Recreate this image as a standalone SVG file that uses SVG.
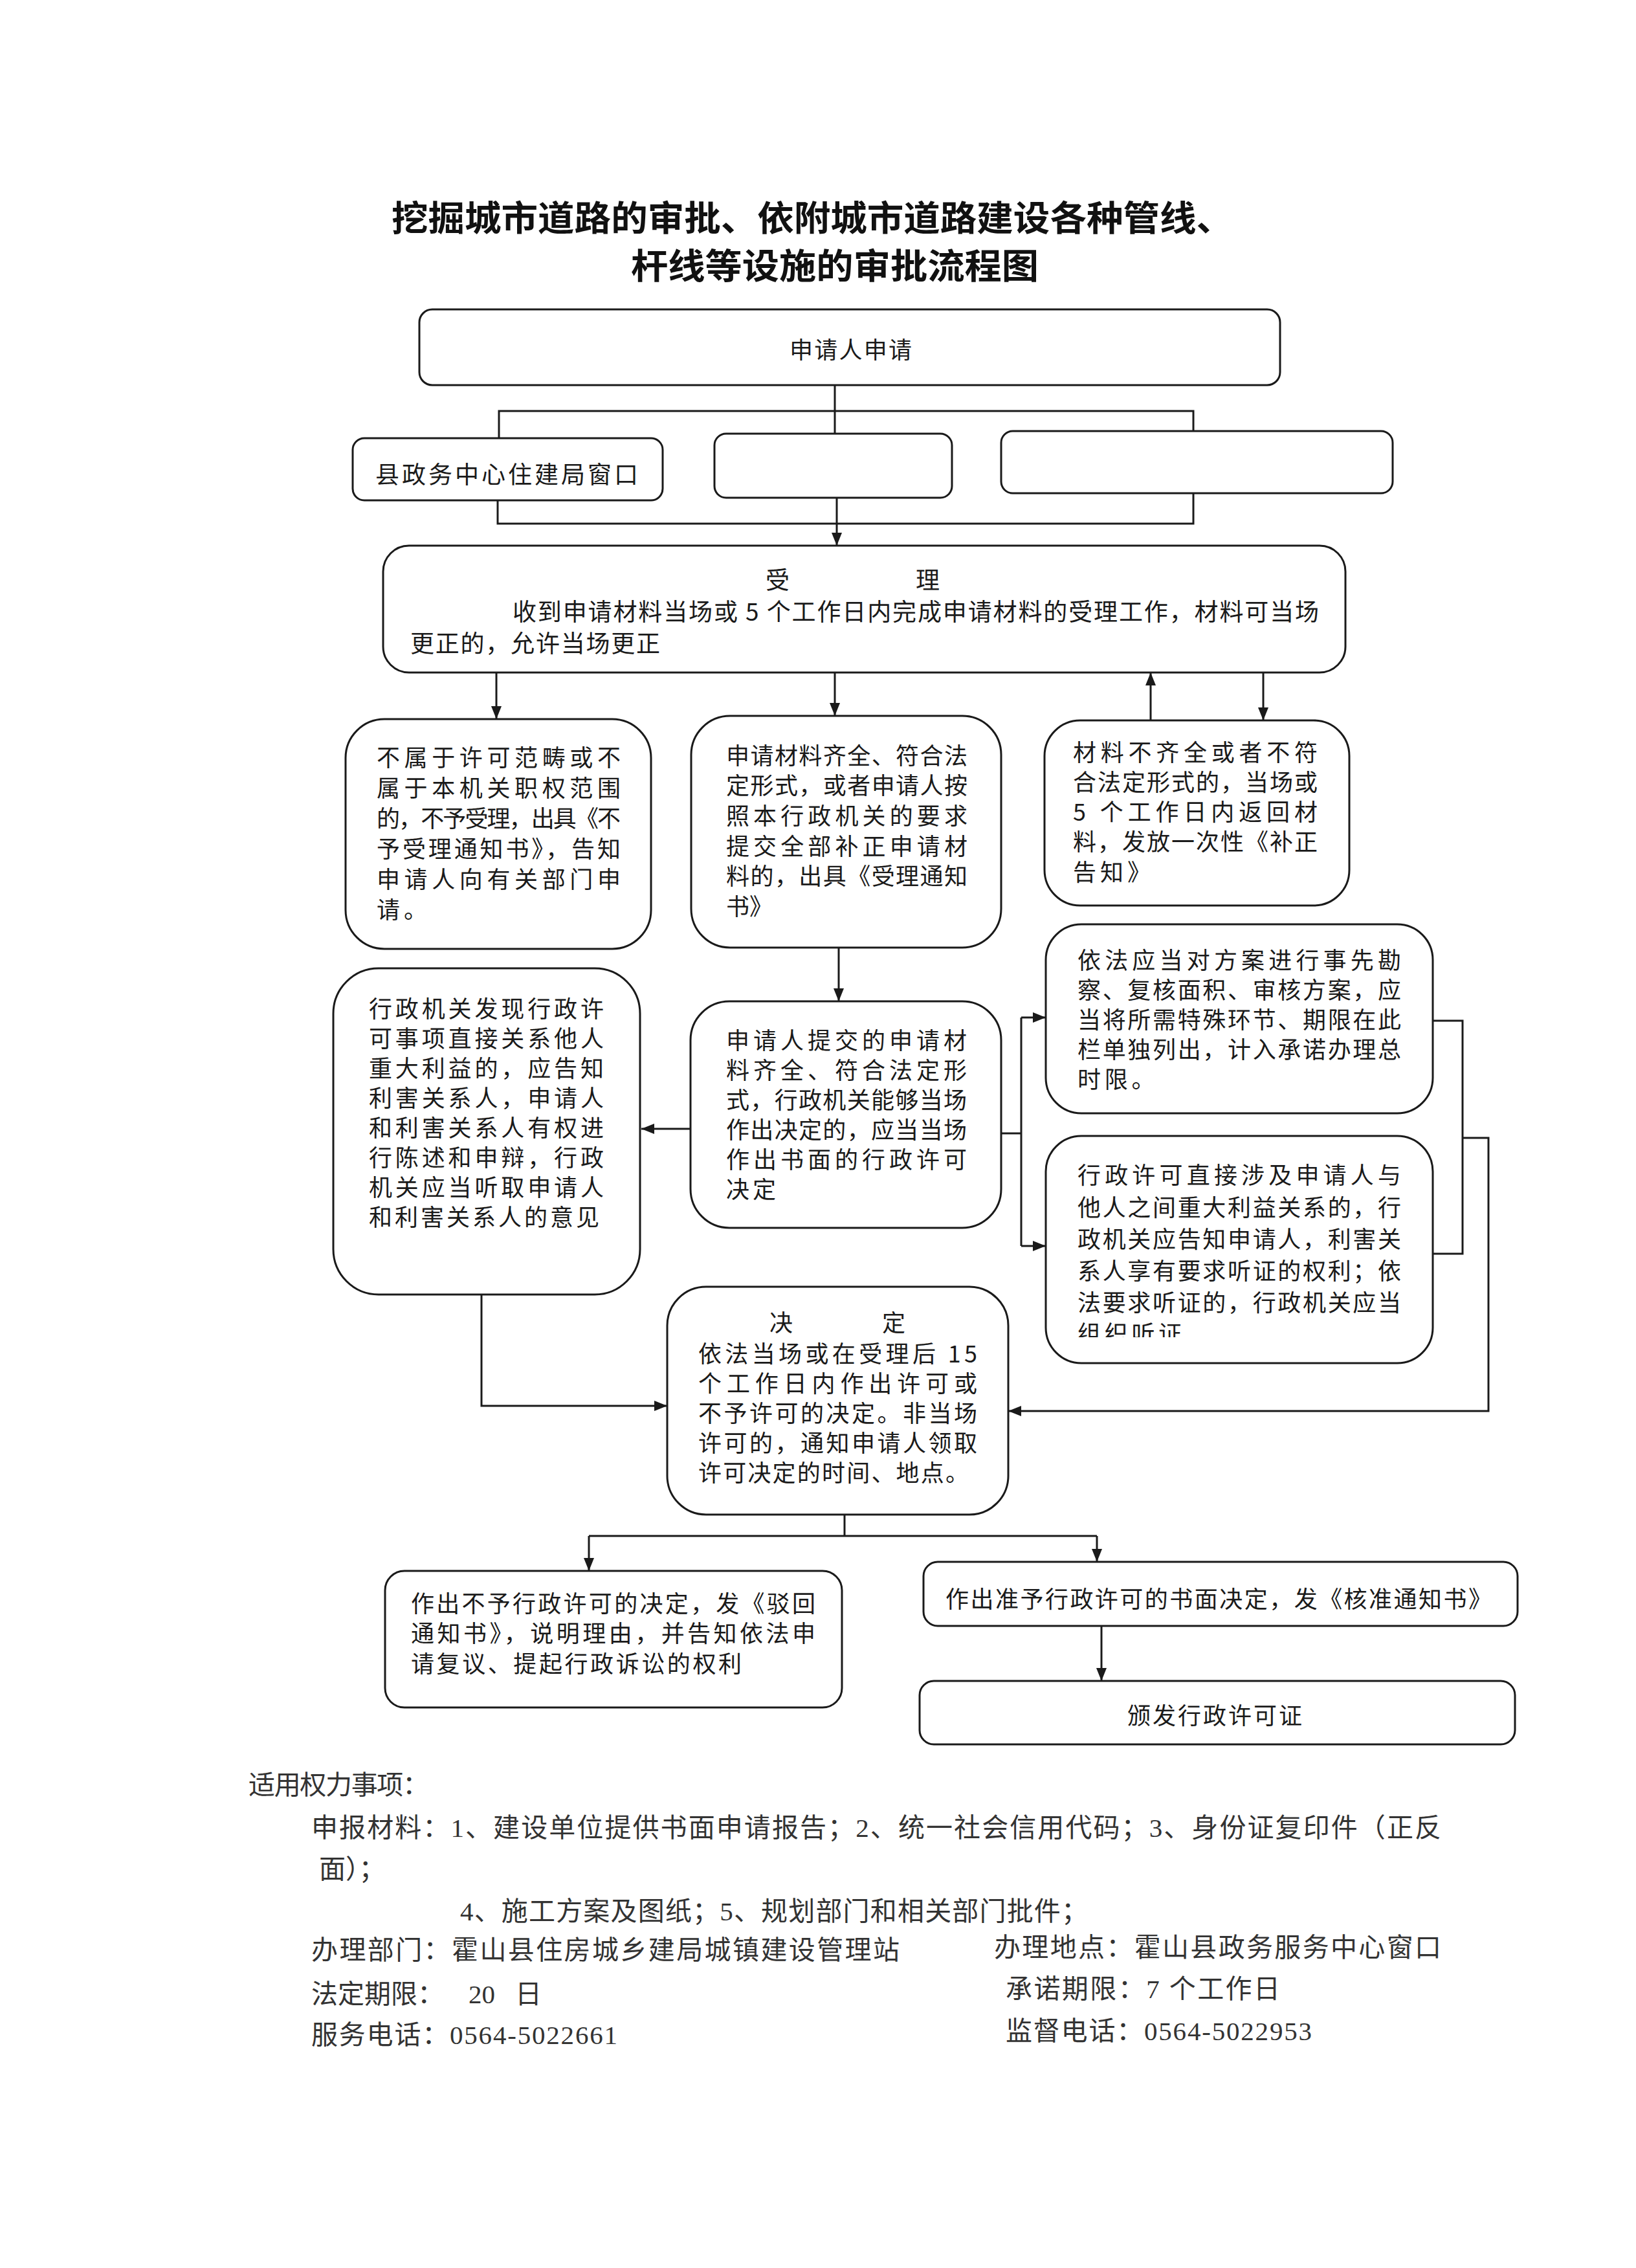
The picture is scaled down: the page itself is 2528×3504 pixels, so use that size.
<svg xmlns="http://www.w3.org/2000/svg" width="2528" height="3504" viewBox="0 0 2528 3504">
<style>
.bg{fill:#ffffff}
.box{fill:#ffffff;stroke:#1a1a1a;stroke-width:3}
.t{font-family:"Noto Sans CJK SC","Noto Sans",sans-serif;font-size:36px;fill:#1a1a1a}
.t37{font-family:"Noto Sans CJK SC","Noto Sans",sans-serif;font-size:37px;fill:#1a1a1a}
.title{font-family:"Noto Sans CJK SC","Noto Sans",sans-serif;font-size:54px;font-weight:700;fill:#111}
.ft{font-family:"Liberation Serif","Noto Sans CJK SC",serif;font-size:41px;fill:#333}
.ln{fill:none;stroke:#1a1a1a;stroke-width:3}
.ar{fill:none;stroke:#1a1a1a;stroke-width:3;marker-end:url(#ah)}
</style>
<defs>
<marker id="ah" markerWidth="20" markerHeight="16" refX="20" refY="8" orient="auto" markerUnits="userSpaceOnUse"><path d="M0,0 L20,8 L0,16 z" fill="#1a1a1a"/></marker>
<clipPath id="clipE4"><rect x="1616" y="1755" width="598" height="311"/></clipPath>
</defs>
<rect class="bg" x="0" y="0" width="2528" height="3504"/>

<g id="title">
<text class="title" x="605" y="357" textLength="1300" lengthAdjust="spacingAndGlyphs">挖掘城市道路的审批、依附城市道路建设各种管线、</text>
<text class="title" x="975" y="431" textLength="630" lengthAdjust="spacingAndGlyphs">杆线等设施的审批流程图</text>
</g>

<g id="connectors">
<path class="ln" d="M1290,595 V670"/>
<path class="ln" d="M771,677 V635 H1844 V666"/>
<path class="ln" d="M769,773 V809 H1844 V762"/>
<path class="ar" d="M1293,769 V843"/>
<path class="ar" d="M767,1039 V1111"/>
<path class="ar" d="M1290,1039 V1106"/>
<path class="ar" d="M1778,1113 V1039"/>
<path class="ar" d="M1952,1039 V1113"/>
<path class="ar" d="M1296,1464 V1547"/>
<path class="ar" d="M1067,1744 H991"/>
<path class="ln" d="M1547,1751 H1578"/>
<path class="ln" d="M1578,1572 V1925"/>
<path class="ar" d="M1578,1572 H1616"/>
<path class="ar" d="M1578,1925 H1616"/>
<path class="ln" d="M2214,1577 H2260 V1937 H2214"/>
<path class="ar" d="M2260,1758 H2300 V2180 H1558"/>
<path class="ar" d="M744,2000 V2172 H1031"/>
<path class="ln" d="M1305,2340 V2373"/>
<path class="ln" d="M910,2373 H1695"/>
<path class="ar" d="M910,2373 V2427"/>
<path class="ar" d="M1695,2373 V2413"/>
<path class="ar" d="M1702,2512 V2597"/>
</g>

<g id="n-apply">
<rect class="box" x="648" y="478" width="1330" height="117" rx="20"/>
<text class="t" x="1220" y="554" textLength="189" lengthAdjust="spacing">申请人申请</text>
</g>

<g id="n-window">
<rect class="box" x="545" y="677" width="479" height="96" rx="18"/>
<text class="t37" x="580" y="747" textLength="406" lengthAdjust="spacing">县政务中心住建局窗口</text>
</g>
<g id="n-blank1">
<rect class="box" x="1104" y="670" width="367" height="99" rx="18"/>
</g>
<g id="n-blank2">
<rect class="box" x="1547" y="666" width="605" height="96" rx="18"/>
</g>

<g id="n-accept">
<rect class="box" x="592" y="843" width="1487" height="196" rx="40"/>
<text class="t37" x="1183" y="910">受</text>
<text class="t37" x="1415" y="910">理</text>
<text class="t37" x="792" y="959" textLength="1246" lengthAdjust="spacing">收到申请材料当场或 5 个工作日内完成申请材料的受理工作，材料可当场</text>
<text class="t37" x="634" y="1008" textLength="386" lengthAdjust="spacing">更正的，允许当场更正</text>
</g>

<g id="n-reject">
<rect class="box" x="534" y="1111" width="472" height="355" rx="60"/>
<text class="t" x="582" y="1184" textLength="377" lengthAdjust="spacing">不属于许可范畴或不</text>
<text class="t" x="582" y="1231" textLength="377" lengthAdjust="spacing">属于本机关职权范围</text>
<text class="t" x="582" y="1278" textLength="377" lengthAdjust="spacing">的，不予受理，出具《不</text>
<text class="t" x="582" y="1325" textLength="377" lengthAdjust="spacing">予受理通知书》，告知</text>
<text class="t" x="582" y="1372" textLength="377" lengthAdjust="spacing">申请人向有关部门申</text>
<text class="t" x="582" y="1419" style="letter-spacing:6px">请。</text>
</g>

<g id="n-complete">
<rect class="box" x="1068" y="1106" width="479" height="358" rx="60"/>
<text class="t" x="1122" y="1181" textLength="373" lengthAdjust="spacing">申请材料齐全、符合法</text>
<text class="t" x="1122" y="1227" textLength="373" lengthAdjust="spacing">定形式，或者申请人按</text>
<text class="t" x="1122" y="1274" textLength="373" lengthAdjust="spacing">照本行政机关的要求</text>
<text class="t" x="1122" y="1321" textLength="373" lengthAdjust="spacing">提交全部补正申请材</text>
<text class="t" x="1122" y="1367" textLength="373" lengthAdjust="spacing">料的，出具《受理通知</text>
<text class="t" x="1122" y="1414">书》</text>
</g>

<g id="n-incomplete">
<rect class="box" x="1614" y="1113" width="471" height="286" rx="55"/>
<text class="t" x="1658" y="1176" textLength="378" lengthAdjust="spacing">材料不齐全或者不符</text>
<text class="t" x="1658" y="1222" textLength="378" lengthAdjust="spacing">合法定形式的，当场或</text>
<text class="t" x="1658" y="1268" textLength="378" lengthAdjust="spacing">5 个工作日内返回材</text>
<text class="t" x="1658" y="1314" textLength="378" lengthAdjust="spacing">料，发放一次性《补正</text>
<text class="t" x="1658" y="1361" style="letter-spacing:6px">告知》</text>
</g>

<g id="n-hearing-left">
<rect class="box" x="515" y="1496" width="474" height="504" rx="70"/>
<text class="t" x="570" y="1572" textLength="363" lengthAdjust="spacing">行政机关发现行政许</text>
<text class="t" x="570" y="1618" textLength="363" lengthAdjust="spacing">可事项直接关系他人</text>
<text class="t" x="570" y="1664" textLength="363" lengthAdjust="spacing">重大利益的，应告知</text>
<text class="t" x="570" y="1710" textLength="363" lengthAdjust="spacing">利害关系人，申请人</text>
<text class="t" x="570" y="1756" textLength="363" lengthAdjust="spacing">和利害关系人有权进</text>
<text class="t" x="570" y="1802" textLength="363" lengthAdjust="spacing">行陈述和申辩，行政</text>
<text class="t" x="570" y="1848" textLength="363" lengthAdjust="spacing">机关应当听取申请人</text>
<text class="t" x="570" y="1894" textLength="356" lengthAdjust="spacing">和利害关系人的意见</text>
</g>

<g id="n-onsite">
<rect class="box" x="1067" y="1547" width="480" height="350" rx="60"/>
<text class="t" x="1122" y="1621" textLength="372" lengthAdjust="spacing">申请人提交的申请材</text>
<text class="t" x="1122" y="1667" textLength="372" lengthAdjust="spacing">料齐全、符合法定形</text>
<text class="t" x="1122" y="1713" textLength="372" lengthAdjust="spacing">式，行政机关能够当场</text>
<text class="t" x="1122" y="1759" textLength="372" lengthAdjust="spacing">作出决定的，应当当场</text>
<text class="t" x="1122" y="1805" textLength="372" lengthAdjust="spacing">作出书面的行政许可</text>
<text class="t" x="1122" y="1851" style="letter-spacing:5px">决定</text>
</g>

<g id="n-survey">
<rect class="box" x="1616" y="1428" width="598" height="292" rx="55"/>
<text class="t" x="1665" y="1497" textLength="500" lengthAdjust="spacing">依法应当对方案进行事先勘</text>
<text class="t" x="1665" y="1543" textLength="500" lengthAdjust="spacing">察、复核面积、审核方案，应</text>
<text class="t" x="1665" y="1589" textLength="500" lengthAdjust="spacing">当将所需特殊环节、期限在此</text>
<text class="t" x="1665" y="1635" textLength="500" lengthAdjust="spacing">栏单独列出，计入承诺办理总</text>
<text class="t" x="1665" y="1681" style="letter-spacing:5.7px">时限。</text>
</g>

<g id="n-hearing-right">
<rect class="box" x="1616" y="1755" width="598" height="351" rx="55"/>
<text class="t" x="1665" y="1829" textLength="500" lengthAdjust="spacing">行政许可直接涉及申请人与</text>
<text class="t" x="1665" y="1879" textLength="500" lengthAdjust="spacing">他人之间重大利益关系的，行</text>
<text class="t" x="1665" y="1928" textLength="500" lengthAdjust="spacing">政机关应告知申请人，利害关</text>
<text class="t" x="1665" y="1977" textLength="500" lengthAdjust="spacing">系人享有要求听证的权利；依</text>
<text class="t" x="1665" y="2026" textLength="500" lengthAdjust="spacing">法要求听证的，行政机关应当</text>
<text class="t" x="1665" y="2074" clip-path="url(#clipE4)" style="letter-spacing:5.7px">组织听证</text>
</g>

<g id="n-decision">
<rect class="box" x="1031" y="1988" width="527" height="352" rx="60"/>
<text class="t" x="1189" y="2057">决</text>
<text class="t" x="1363" y="2057">定</text>
<text class="t" x="1079" y="2105" textLength="431" lengthAdjust="spacing">依法当场或在受理后 15</text>
<text class="t" x="1079" y="2151" textLength="431" lengthAdjust="spacing">个工作日内作出许可或</text>
<text class="t" x="1079" y="2197" textLength="431" lengthAdjust="spacing">不予许可的决定。非当场</text>
<text class="t" x="1079" y="2243" textLength="431" lengthAdjust="spacing">许可的，通知申请人领取</text>
<text class="t" x="1079" y="2289" textLength="418" lengthAdjust="spacing">许可决定的时间、地点。</text>
</g>

<g id="n-deny">
<rect class="box" x="595" y="2427" width="706" height="211" rx="30"/>
<text class="t" x="635" y="2491" textLength="625" lengthAdjust="spacing">作出不予行政许可的决定，发《驳回</text>
<text class="t" x="635" y="2537" textLength="625" lengthAdjust="spacing">通知书》，说明理由，并告知依法申</text>
<text class="t" x="635" y="2584" textLength="511" lengthAdjust="spacing">请复议、提起行政诉讼的权利</text>
</g>

<g id="n-approve">
<rect class="box" x="1427" y="2413" width="918" height="99" rx="22"/>
<text class="t" x="1461" y="2484" textLength="844" lengthAdjust="spacing">作出准予行政许可的书面决定，发《核准通知书》</text>
</g>

<g id="n-issue">
<rect class="box" x="1421" y="2597" width="920" height="98" rx="22"/>
<text class="t" x="1742" y="2664" textLength="270" lengthAdjust="spacing">颁发行政许可证</text>
</g>

<g id="footer">
<text class="ft" x="384" y="2772" textLength="279" lengthAdjust="spacing">适用权力事项：</text>
<text class="ft" x="481" y="2838" textLength="1746" lengthAdjust="spacing">申报材料：1、建设单位提供书面申请报告；2、统一社会信用代码；3、身份证复印件（正反</text>
<text class="ft" x="493" y="2902">面）；</text>
<text class="ft" x="711" y="2967" textLength="970" lengthAdjust="spacing">4、施工方案及图纸；5、规划部门和相关部门批件；</text>
<text class="ft" x="481" y="3027" textLength="909" lengthAdjust="spacing">办理部门：霍山县住房城乡建局城镇建设管理站</text>
<text class="ft" x="1536" y="3023" textLength="691" lengthAdjust="spacing">办理地点：霍山县政务服务中心窗口</text>
<text class="ft" x="481" y="3095">法定期限：<tspan x="724">20</tspan><tspan x="796">日</tspan></text>
<text class="ft" x="1554" y="3087" textLength="424" lengthAdjust="spacing">承诺期限：7 个工作日</text>
<text class="ft" x="481" y="3158" textLength="473" lengthAdjust="spacing">服务电话：0564-5022661</text>
<text class="ft" x="1554" y="3152" textLength="473" lengthAdjust="spacing">监督电话：0564-5022953</text>
</g>
</svg>
